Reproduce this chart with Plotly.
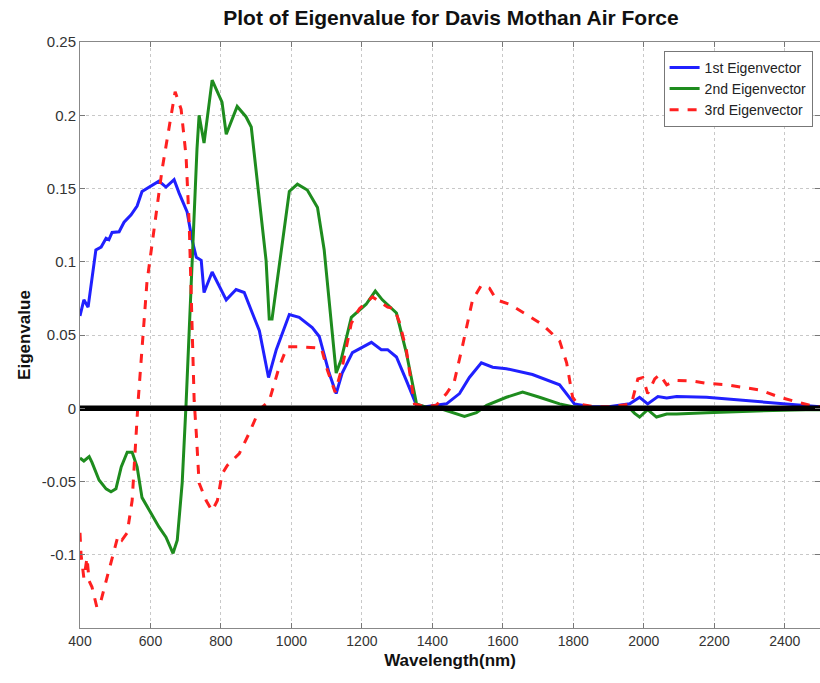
import plotly.graph_objects as go

# 1st eigenvector
wl_1 = [400, 411, 423, 431, 445, 460, 474, 482, 491, 511, 525, 545, 562, 576, 596, 624, 644, 667, 681, 704,
        718, 730, 744, 752, 775, 815, 843, 866, 889, 909, 935, 957, 994, 1022, 1059, 1079, 1107, 1127, 1144,
        1173, 1227, 1255, 1273, 1298, 1326, 1355, 1380, 1411, 1440, 1477, 1505, 1539, 1571, 1610, 1684, 1761,
        1803, 1850, 1900, 1960, 1988, 2011, 2040, 2065, 2093, 2178, 2272, 2366, 2443, 2500]
ev_1 = [0.063, 0.074, 0.069, 0.083, 0.108, 0.110, 0.116, 0.115, 0.120, 0.1205, 0.127, 0.132, 0.138, 0.148,
        0.151, 0.155, 0.151, 0.156, 0.147, 0.134, 0.115, 0.103, 0.101, 0.079, 0.093, 0.074, 0.081, 0.079,
        0.065, 0.053, 0.021, 0.040, 0.064, 0.062, 0.055, 0.049, 0.024, 0.010, 0.024, 0.038, 0.045, 0.040,
        0.040, 0.035, 0.019, 0.002, 0.001, 0.002, 0.003, 0.010, 0.021, 0.031, 0.028, 0.027, 0.023, 0.016,
        0.003, 0.001, 0.001, 0.003, 0.0075, 0.003, 0.008, 0.007, 0.008, 0.0075, 0.0055, 0.0035, 0.002, 0.001]

# 2nd eigenvector
wl_2 = [400, 411, 426, 434, 454, 474, 488, 502, 517, 534, 548, 562, 576, 602, 624, 644, 664, 676, 690, 701,
        718, 732, 738, 752, 775, 803, 815, 829, 846, 871, 886, 928, 937, 945, 994, 1017, 1045, 1074, 1093,
        1127, 1141, 1170, 1212, 1238, 1258, 1298, 1326, 1355, 1390, 1420, 1457, 1491, 1525, 1554, 1610,
        1656, 1704, 1761, 1798, 1850, 1900, 1960, 1974, 1988, 2011, 2036, 2065, 2093, 2178, 2272, 2366,
        2460, 2500]
ev_2 = [-0.034, -0.036, -0.033, -0.037, -0.049, -0.055, -0.057, -0.055, -0.040, -0.030, -0.030, -0.040,
        -0.061, -0.072, -0.081, -0.088, -0.099, -0.090, -0.051, 0.003, 0.103, 0.177, 0.200, 0.181, 0.224,
        0.209, 0.187, 0.195, 0.206, 0.199, 0.192, 0.101, 0.061, 0.061, 0.148, 0.153, 0.149, 0.137, 0.108,
        0.024, 0.033, 0.062, 0.071, 0.080, 0.074, 0.065, 0.038, 0.003, 0.0, 0.0, -0.003, -0.0055, -0.003,
        0.002, 0.0075, 0.011, 0.0075, 0.003, 0.001, 0.0, 0.0, 0.0, -0.0035, -0.006, -0.001, -0.006, -0.004,
        -0.004, -0.003, -0.002, -0.0015, -0.001, -0.001]

# 3rd eigenvector
wl_3 = [400, 403, 411, 420, 426, 434, 448, 460, 474, 491, 508, 519, 534, 548, 559, 565, 590, 616, 633, 658,
        670, 687, 701, 710, 718, 724, 730, 738, 758, 775, 790, 803, 818, 852, 880, 909, 937, 965, 988, 1022,
        1085, 1102, 1124, 1144, 1170, 1193, 1230, 1250, 1273, 1292, 1306, 1326, 1349, 1380, 1411, 1440,
        1462, 1485, 1514, 1539, 1562, 1582, 1619, 1667, 1713, 1761, 1781, 1798, 1812, 1860, 1910, 1965,
        1983, 1997, 2011, 2031, 2045, 2065, 2093, 2139, 2178, 2235, 2272, 2329, 2386, 2443, 2471, 2500]
ev_3 = [-0.085, -0.100, -0.116, -0.102, -0.118, -0.122, -0.136, -0.131, -0.118, -0.102, -0.087, -0.090,
        -0.085, -0.063, -0.015, 0.005, 0.086, 0.131, 0.163, 0.199, 0.216, 0.204, 0.172, 0.125, 0.062, 0.005,
        -0.017, -0.051, -0.063, -0.070, -0.063, -0.045, -0.039, -0.031, -0.017, -0.001, 0.005, 0.028, 0.042,
        0.042, 0.041, 0.026, 0.011, 0.028, 0.058, 0.068, 0.076, 0.073, 0.069, 0.068, 0.059, 0.040, 0.003,
        0.001, 0.002, 0.010, 0.018, 0.042, 0.074, 0.084, 0.082, 0.074, 0.071, 0.064, 0.057, 0.046, 0.031,
        0.0075, 0.003, 0.001, 0.001, 0.003, 0.020, 0.021, 0.010, 0.020, 0.023, 0.016, 0.019, 0.0185, 0.017,
        0.016, 0.0145, 0.0125, 0.0075, 0.004, 0.002, 0.001]

zero_x = [400, 2500]
zero_y = [0, 0]

x_ticks = [400, 600, 800, 1000, 1200, 1400, 1600, 1800, 2000, 2200, 2400]
y_ticks = [-0.1, -0.05, 0, 0.05, 0.1, 0.15, 0.2, 0.25]
y_labels = ["-0.1", "-0.05", "0", "0.05", "0.1", "0.15", "0.2", "0.25"]

fig = go.Figure()
fig.add_trace(go.Scatter(x=wl_1, y=ev_1, mode="lines", name="1st Eigenvector",
                         line=dict(color="#2020ff", width=3)))
fig.add_trace(go.Scatter(x=wl_2, y=ev_2, mode="lines", name="2nd Eigenvector",
                         line=dict(color="#1e8c1e", width=3)))
fig.add_trace(go.Scatter(x=wl_3, y=ev_3, mode="lines", name="3rd Eigenvector",
                         line=dict(color="#ff2020", width=3, dash="dash")))
fig.add_trace(go.Scatter(x=zero_x, y=zero_y, mode="lines", showlegend=False,
                         line=dict(color="black", width=5.5), hoverinfo="skip"))

fig.update_layout(
    width=820, height=683,
    margin=dict(l=80, r=0, t=42, b=55),
    paper_bgcolor="white", plot_bgcolor="white",
    font=dict(family="Liberation Sans, Arial, sans-serif", size=14, color="#333333"),
    title=dict(text="Plot of Eigenvalue for Davis Mothan Air Force", x=0.55, xanchor="center",
               y=1 - 18 / 683, yanchor="middle",
               font=dict(size=21, color="#111111", weight="bold")),
    legend=dict(x=0.99, y=0.985, xanchor="right", yanchor="top", bgcolor="white",
                bordercolor="#777777", borderwidth=1, font=dict(size=14, color="#222222"),
                tracegroupgap=0, itemwidth=30),
    showlegend=True,
)
fig.update_xaxes(range=[400, 2500], tickvals=x_ticks, ticks="inside", ticklen=5, tickcolor="#777777",
                 showline=True, linecolor="#888888", linewidth=1, mirror="ticks",
                 showgrid=True, gridcolor="#c8c8c8", griddash="dot", gridwidth=1, zeroline=False,
                 title=dict(text="Wavelength(nm)", standoff=6,
                            font=dict(size=17, color="#111111", weight="bold")),
                 tickfont=dict(size=14, color="#333333"))
fig.update_yaxes(range=[-0.15, 0.25], tickvals=y_ticks, ticktext=y_labels, ticks="inside", ticklen=5,
                 tickcolor="#777777", showline=True, linecolor="#888888", linewidth=1, mirror="ticks",
                 showgrid=True, gridcolor="#c8c8c8", griddash="dot", gridwidth=1, zeroline=False,
                 title=dict(text="Eigenvalue", standoff=6,
                            font=dict(size=17, color="#111111", weight="bold")),
                 tickfont=dict(size=15, color="#333333"))

fig.write_html("out.html")
